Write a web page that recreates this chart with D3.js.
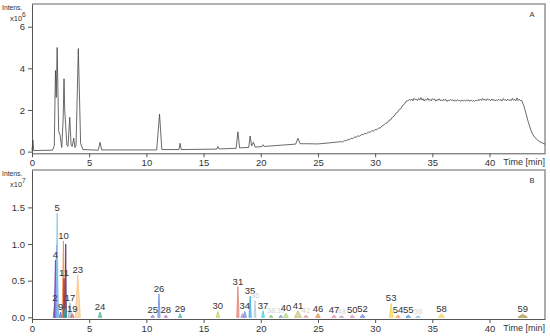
<!DOCTYPE html>
<html>
<head>
<meta charset="utf-8">
<script src="https://cdn.jsdelivr.net/npm/d3@7"></script>
<style>
  body { margin: 0; background: #fff; }
  text { font-family: Arial, "Liberation Sans", sans-serif; fill: #333; }
</style>
</head>
<body>
<div id="chart"></div>
<script>
// total ion chromatogram (panel A), time in min, intensity x10^6
const ticPoints = [
  [0, 0.05], [0.08, 0.55], [0.15, 0.05], [1.8, 0.07], [1.95, 0.3], [2.05, 3.9], [2.12, 2.6],
  [2.2, 5.0], [2.33, 1.0], [2.45, 0.8], [2.6, 0.2], [2.72, 1.5], [2.8, 3.5], [2.86, 2.0],
  [2.95, 1.2], [3.05, 0.3], [3.15, 0.25], [3.3, 1.65], [3.42, 0.3], [3.52, 0.25], [3.65, 0.65],
  [3.75, 0.2], [3.85, 0.3], [4.05, 4.95], [4.25, 0.4], [4.45, 0.1], [5.8, 0.07], [5.95, 0.45],
  [6.1, 0.08], [10.9, 0.08], [11.15, 1.8], [11.35, 0.1], [12.85, 0.1], [12.95, 0.4], [13.05, 0.1],
  [16.15, 0.12], [16.25, 0.25], [16.35, 0.13], [17.85, 0.16], [18.0, 0.95], [18.15, 0.18],
  [18.95, 0.2], [19.07, 0.75], [19.2, 0.28], [19.36, 0.45], [19.5, 0.22], [20.1, 0.24],
  [20.2, 0.33], [20.3, 0.25], [23.05, 0.36], [23.25, 0.64], [23.45, 0.38], [24.0, 0.38],
  [25.0, 0.37], [26.0, 0.42], [26.5, 0.45], [27.0, 0.48], [27.15, 0.46], [27.3, 0.53],
  [27.45, 0.52], [27.6, 0.58], [27.75, 0.57], [27.9, 0.64], [28.05, 0.62], [28.2, 0.71],
  [28.35, 0.69], [28.5, 0.76], [28.65, 0.74], [28.8, 0.82], [28.95, 0.81], [29.1, 0.88],
  [29.25, 0.86], [29.4, 0.94], [29.55, 0.92], [29.7, 1.01], [29.85, 0.99], [30.0, 1.06],
  [30.15, 1.05], [30.3, 1.14], [30.45, 1.13], [30.6, 1.24], [30.75, 1.27], [30.9, 1.36],
  [31.05, 1.38], [31.2, 1.5], [31.35, 1.52], [31.5, 1.65], [31.65, 1.7], [31.8, 1.84],
  [31.95, 1.88], [32.1, 2.02], [32.25, 2.06], [32.4, 2.22], [32.55, 2.27], [32.7, 2.42],
  [32.85, 2.44], [33.0, 2.50], [33.1, 2.46], [33.2, 2.53], [33.3, 2.44], [33.4, 2.56],
  [33.5, 2.49], [33.6, 2.52], [33.7, 2.45], [33.8, 2.55], [33.9, 2.48], [34.0, 2.60],
  [34.1, 2.47], [34.2, 2.54], [34.3, 2.43], [34.4, 2.52], [34.5, 2.47], [34.6, 2.57],
  [34.7, 2.46], [34.8, 2.51], [34.9, 2.44], [35.0, 2.55], [35.1, 2.49], [35.2, 2.53],
  [35.3, 2.42], [35.4, 2.50], [35.5, 2.46], [35.6, 2.54], [35.7, 2.45], [35.8, 2.49],
  [35.9, 2.43], [36.0, 2.52], [36.1, 2.46], [36.2, 2.50], [36.3, 2.41], [36.4, 2.48],
  [36.5, 2.44], [36.6, 2.51], [36.7, 2.45], [36.8, 2.49], [36.9, 2.42], [37.0, 2.47],
  [37.1, 2.43], [37.2, 2.50], [37.3, 2.44], [37.4, 2.46], [37.5, 2.41], [37.6, 2.48],
  [37.7, 2.43], [37.8, 2.47], [37.9, 2.42], [38.0, 2.49], [38.1, 2.44], [38.2, 2.47],
  [38.3, 2.42], [38.4, 2.48], [38.5, 2.43], [38.6, 2.46], [38.7, 2.41], [38.8, 2.47],
  [38.9, 2.44], [39.0, 2.50], [39.1, 2.45], [39.2, 2.53], [39.3, 2.46], [39.4, 2.55],
  [39.5, 2.47], [39.6, 2.52], [39.7, 2.45], [39.8, 2.54], [39.9, 2.48], [40.0, 2.51],
  [40.1, 2.44], [40.2, 2.53], [40.3, 2.46], [40.4, 2.50], [40.5, 2.43], [40.6, 2.49],
  [40.7, 2.45], [40.8, 2.52], [40.9, 2.46], [41.0, 2.50], [41.1, 2.43], [41.2, 2.55],
  [41.3, 2.47], [41.4, 2.50], [41.5, 2.44], [41.6, 2.52], [41.7, 2.46], [41.8, 2.49],
  [41.9, 2.45], [42.0, 2.56], [42.1, 2.47], [42.2, 2.51], [42.3, 2.44], [42.4, 2.58],
  [42.5, 2.46], [42.6, 2.52], [42.7, 2.45], [42.8, 2.47], [43.0, 2.2], [43.2, 1.8],
  [43.4, 1.4], [43.6, 1.05], [43.8, 0.8], [44.1, 0.6], [44.4, 0.47], [44.85, 0.36]
];

// extracted peaks (panel B), intensity x10^7
const peakLabels  = ["2", "", "4", "5", "9", "10", "11", "", "", "17", "19", "23", "24",
  "25", "26", "28", "29", "30", "31", "", "34", "35", "36", "37", "38", "39", "40", "41",
  "42", "46", "47", "48", "50", "52", "53", "54", "55", "56", "58", "59"];
const peakTimes   = [2.0, 2.15, 2.05, 2.2, 2.5, 2.75, 2.8, 2.95, 2.9, 3.32, 3.53, 4.0, 5.95,
  10.55, 11.1, 11.7, 12.95, 16.25, 18.0, 18.4, 18.6, 19.07, 19.5, 20.2, 20.9, 21.75, 22.2, 23.25,
  23.95, 25.0, 26.4, 27.05, 28.0, 28.9, 31.4, 32.0, 32.9, 33.75, 35.8, 42.9];
const peakHeights = [0.19, 0.98, 0.78, 1.42, 0.07, 1.04, 0.53, 1.0, 0.12, 0.2, 0.05, 0.58, 0.07,
  0.03, 0.32, 0.03, 0.05, 0.08, 0.42, 0.05, 0.08, 0.29, 0.23, 0.09, 0.03, 0.03, 0.06, 0.09,
  0.03, 0.05, 0.03, 0.02, 0.03, 0.04, 0.19, 0.03, 0.03, 0.02, 0.05, 0.04];
const peakWidths  = [0.15, 0.15, 0.12, 0.1, 0.12, 0.12, 0.08, 0.06, 0.15, 0.15, 0.15, 0.22, 0.15,
  0.15, 0.1, 0.15, 0.15, 0.15, 0.1, 0.15, 0.15, 0.1, 0.08, 0.12, 0.15, 0.15, 0.2, 0.3,
  0.2, 0.2, 0.2, 0.2, 0.2, 0.2, 0.15, 0.2, 0.2, 0.2, 0.25, 0.4];
const peakColors  = ["#2eaa6e", "#a678e6", "#7a3fc0", "#7ec8ea", "#3a6fd8", "#f0894a", "#a8322a",
  "#4b2f86", "#2bb3a0", "#9ab8d8", "#d0655a", "#f7c17e", "#3db89c", "#a070c8", "#6f8fe0",
  "#c070c0", "#40b8b0", "#c0d060", "#e08070", "#a0a0d0", "#8080e0", "#2fb0e6", "#b8c8d8",
  "#40d0e0", "#80c080", "#60a0e0", "#b0d070", "#c8c070", "#e0a0a0", "#d09040", "#e090a0",
  "#c0a0d0", "#e090b0", "#6080e0", "#f5d040", "#f0a060", "#4090e0", "#90c0e0", "#f0d050", "#a09030"];
const faintLabels = ["36", "38", "39", "42", "48", "56"];

const xTicks = [0, 5, 10, 15, 20, 25, 30, 35, 40];
const yTicksA = [0, 2, 4, 6];
const yTicksB = [0, 0.5, 1.0, 1.5];

const W = 550, H = 336;
const svg = d3.select("#chart").append("svg")
  .attr("width", W).attr("height", H);

const x = d3.scaleLinear().domain([0, 44.85]).range([32, 545]);
const yA = d3.scaleLinear().domain([-0.08, 7.09]).range([153.3, 4]);
const yB = d3.scaleLinear().domain([-0.023, 2.01]).range([319, 170]);

function drawFrame(y, tickVals, minorVals, fmt, top, bottom, power, letter) {
  // top and right border
  svg.append("path")
    .attr("d", `M32,${top}H545V${bottom}`)
    .attr("fill", "none").attr("stroke", "#999").attr("stroke-width", 1.6);

  let gx = svg.append("g").attr("transform", `translate(0,${bottom})`);
  gx.call(d3.axisBottom(x).tickValues(d3.range(0, 45)).tickSize(3).tickSizeOuter(0).tickFormat(""));
  gx.call(d3.axisBottom(x).tickValues(xTicks).tickSize(4).tickSizeOuter(0).tickFormat(d3.format("d")));
  gx.selectAll("text").attr("font-size", 9.5).attr("dy", "0.65em").style("fill", "#333");

  let gy = svg.append("g").attr("transform", "translate(32,0)");
  gy.call(d3.axisLeft(y).tickValues(minorVals).tickSize(3).tickSizeOuter(0).tickFormat(""));
  gy.call(d3.axisLeft(y).tickValues(tickVals).tickSize(4).tickSizeOuter(0).tickFormat(fmt));
  gy.selectAll("text").attr("font-size", 9.5).style("fill", "#333");
  svg.selectAll(".domain").attr("stroke", "#555");
  svg.selectAll(".tick line").attr("stroke", "#555");

  svg.append("text").attr("x", 545).attr("y", bottom + 12)
    .attr("text-anchor", "end").attr("font-size", 9).text("Time [min]");
  svg.append("text").attr("x", 2).attr("y", top + 6)
    .attr("font-size", 6.8).text("Intens.");
  let t = svg.append("text").attr("x", 10).attr("y", top + 17).attr("font-size", 7.5);
  t.append("tspan").text("x10");
  t.append("tspan").attr("dy", -4).attr("font-size", 6.5).text(power);
  svg.append("text").attr("x", 532).attr("y", top + 13)
    .attr("text-anchor", "middle").attr("font-size", 7.5).text(letter);
}

// panel A
drawFrame(yA, yTicksA, [1, 3, 5, 7], d3.format("d"), 4, 153.3, "6", "A");

svg.append("path")
  .datum(ticPoints)
  .attr("fill", "none")
  .attr("stroke", "#444")
  .attr("stroke-width", 0.8)
  .attr("d", d3.line().x(d => x(d[0])).y(d => yA(d[1])));

// panel B
drawFrame(yB, yTicksB, d3.range(0, 2.01, 0.1), d3.format(".1f"), 170, 319, "7", "B");

const peaks = peakLabels.map((l, i) => ({
  label: l, t: peakTimes[i], h: peakHeights[i], w: peakWidths[i], color: peakColors[i]
}));

const area = d3.area()
  .x(d => x(d[0])).y0(yB(0)).y1(d => yB(d[1]));

svg.append("g").selectAll("path")
  .data(peaks)
  .join("path")
  .attr("d", p => area([[p.t - p.w, 0], [p.t, p.h], [p.t + p.w, 0]]))
  .attr("fill", p => p.color)
  .attr("fill-opacity", 0.6)
  .attr("stroke", p => p.color)
  .attr("stroke-width", 0.8);

svg.append("g").selectAll("text")
  .data(peaks.filter(p => p.label !== ""))
  .join("text")
  .attr("x", p => x(p.t))
  .attr("y", p => yB(p.h) - 2)
  .attr("text-anchor", "middle")
  .attr("font-size", p => faintLabels.includes(p.label) ? 8 : 9.5)
  .style("fill", p => faintLabels.includes(p.label) ? "#d4d4d4" : "#333")
  .text(p => p.label);
</script>
</body>
</html>
